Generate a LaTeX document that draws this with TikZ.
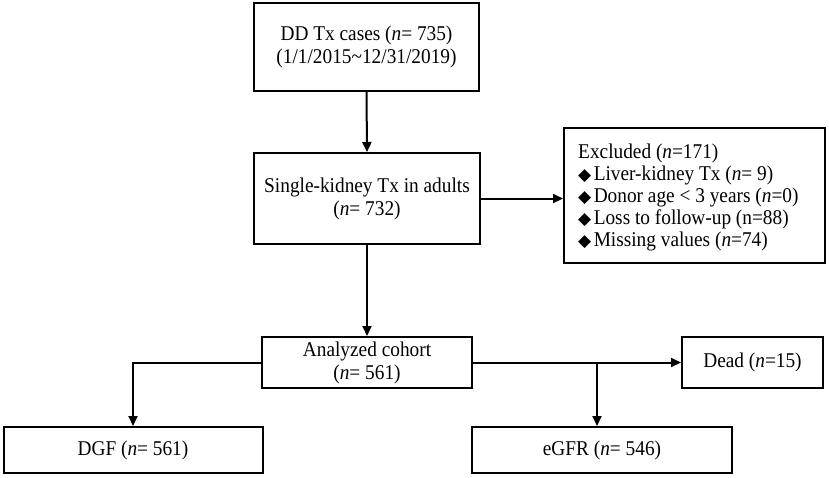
\documentclass[tikz,border=0pt]{standalone}
\usepackage{fontspec}
\setmainfont[FakeStretch=0.92]{Liberation Serif}
\newfontfamily\symfont{DejaVu Sans}
\usetikzlibrary{arrows.meta}
\newcommand{\dia}{{\symfont\fontsize{17}{22}\selectfont ◆}\hspace{2.5pt}}
\begin{document}
\begin{tikzpicture}[x=1pt,y=-1pt,
  box/.style={draw,line width=2pt,inner sep=0pt,align=center,font=\fontsize{21}{23}\selectfont},
  txt/.style={inner sep=0pt,align=left,font=\fontsize{21}{22}\selectfont},
  conn/.style={line width=2pt},
  arr/.style={conn,-{Triangle[length=10pt,width=9pt]}}]
\useasboundingbox (0,0) rectangle (829,477);
\node[box,minimum width=225pt,minimum height=88pt] (b1) at (366.5,47) {DD Tx cases (\textit{n}= 735)\\(1/1/2015\textasciitilde12/31/2019)};
\node[box,minimum width=226pt,minimum height=91pt] (b2) at (367,198.5) {Single-kidney Tx in adults\\(\textit{n}= 732)};
\node[box,minimum width=261pt,minimum height=135pt] (ex) at (694.5,195.5) {};
\node[txt,anchor=west] (extxt) at (578,197) {Excluded (\textit{n}=171)\\\dia Liver-kidney Tx (\textit{n}= 9)\\\dia Donor age < 3 years (\textit{n}=0)\\\dia Loss to follow-up (n=88)\\\dia Missing values (\textit{n}=74)};
\node[box,minimum width=210pt,minimum height=51pt] (an) at (367,362.5) {Analyzed cohort\\(\textit{n}= 561)};
\node[box,minimum width=141pt,minimum height=51pt] (dead) at (752.5,362.5) {Dead (\textit{n}=15)};
\node[box,minimum width=259pt,minimum height=46pt] (dgf) at (133,450) {DGF (\textit{n}= 561)};
\node[box,minimum width=260pt,minimum height=46pt] (egfr) at (602,450) {eGFR (\textit{n}= 546)};
\coordinate (br) at (597,362.5);
\draw[arr] (b1.south) -- (b2.north);
\draw[arr] (b2.east) -- (b2.east -| ex.west);
\draw[arr] (b2.south) -- (an.north);
\draw[arr] (an.west) -| (dgf.north);
\draw[arr] (an.east) -- (dead.west);
\draw[arr] (br) -- (br |- egfr.north);
\end{tikzpicture}
\end{document}
